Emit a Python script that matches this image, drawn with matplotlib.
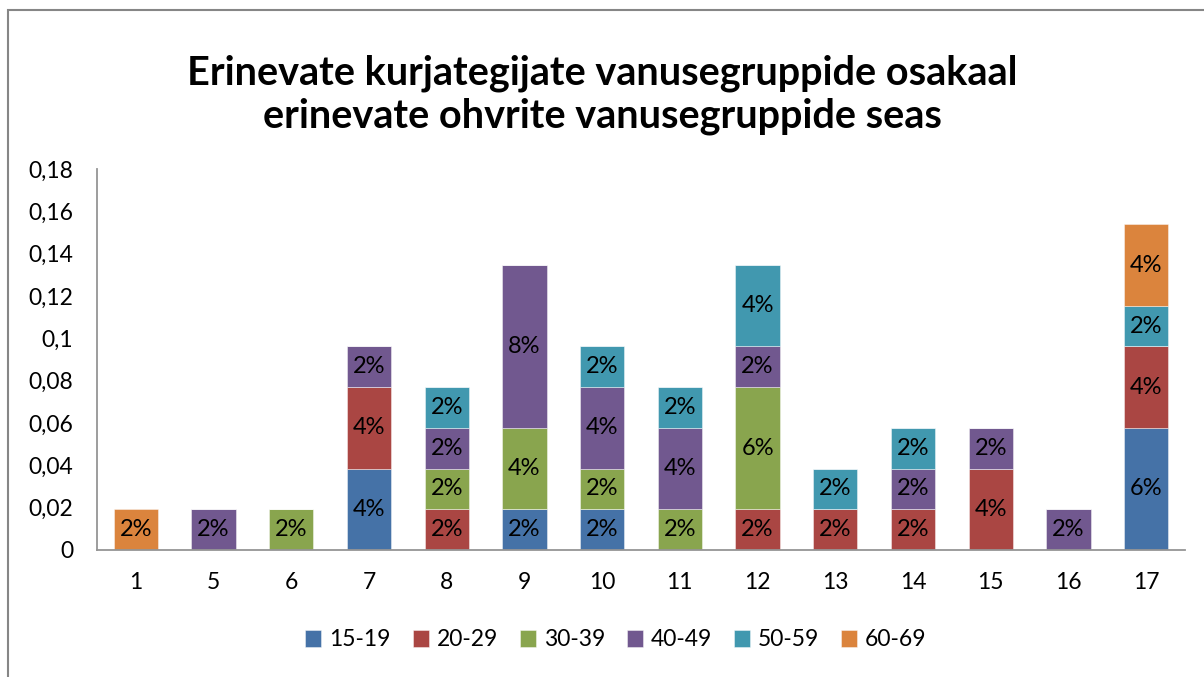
import numpy as np
import matplotlib.pyplot as plt
from matplotlib.patches import Rectangle
from matplotlib.ticker import FuncFormatter

plt.rcParams['font.family'] = ['Lato', 'DejaVu Sans']

categories = ['1', '5', '6', '7', '8', '9', '10', '11', '12', '13', '14', '15', '16', '17']
groups = ['15-19', '20-29', '30-39', '40-49', '50-59', '60-69']
total = 52.0

# counts per victim age group (out of 52 cases)
c15_19 = [0, 0, 0, 2, 0, 1, 1, 0, 0, 0, 0, 0, 0, 3]
c20_29 = [0, 0, 0, 2, 1, 0, 0, 0, 1, 1, 1, 2, 0, 2]
c30_39 = [0, 0, 1, 0, 1, 2, 1, 1, 3, 0, 0, 0, 0, 0]
c40_49 = [0, 1, 0, 1, 1, 4, 2, 2, 1, 0, 1, 1, 1, 0]
c50_59 = [0, 0, 0, 0, 1, 0, 1, 1, 2, 1, 1, 0, 0, 1]
c60_69 = [1, 0, 0, 0, 0, 0, 0, 0, 0, 0, 0, 0, 0, 2]

series = [c15_19, c20_29, c30_39, c40_49, c50_59, c60_69]
colors = ['#4572A7', '#AA4643', '#89A54E', '#71588F', '#4198AF', '#DB843D']

fig = plt.figure(figsize=(12.04, 6.77), dpi=100)
ax = fig.add_axes([97/1204, 1 - 550/677, (1185 - 97)/1204, (550 - 169)/677])

x = np.arange(len(categories))
bottom = np.zeros(len(categories))
for name, counts, col in zip(groups, series, colors):
    vals = np.array(counts) / total
    bars = ax.bar(x, vals, 0.57, bottom=bottom, color=col, label=name,
                  edgecolor=(1, 1, 1, 0.5), linewidth=0.6)
    for xi, v, b in zip(x, vals, bottom):
        if v > 0:
            ax.text(xi, b + v / 2, '{:.0%}'.format(v), ha='center', va='center',
                    fontsize=17, color='black')
    bottom += vals

ax.set_xlim(-0.5, len(categories) - 0.5)
ax.set_ylim(0, 0.18)
ax.set_yticks(np.arange(0, 0.181, 0.02))
ax.yaxis.set_major_formatter(FuncFormatter(lambda v, p: '{:g}'.format(round(v, 2)).replace('.', ',')))
ax.set_xticks(x)
ax.set_xticklabels(categories)
ax.tick_params(axis='both', length=0, labelsize=16.5)
ax.tick_params(axis='x', pad=16)
ax.tick_params(axis='y', pad=17)
for s in ['top', 'right']:
    ax.spines[s].set_visible(False)
for s in ['left', 'bottom']:
    ax.spines[s].set_color('#959595')
    ax.spines[s].set_linewidth(1.3)

fig.text(0.5, 1 - 73/677, 'Erinevate kurjategijate vanusegruppide osakaal', ha='center', va='center',
         fontsize=28.5, fontweight='bold')
fig.text(0.5, 1 - 116/677, 'erinevate ohvrite vanusegruppide seas', ha='center', va='center',
         fontsize=28.5, fontweight='bold')

fig.legend(loc='center', bbox_to_anchor=(616/1204, 1 - 640/677), ncol=6, frameon=False,
           fontsize=16.5, handlelength=0.7, handleheight=0.7, handletextpad=0.35, columnspacing=0.95)

fig.patches.append(Rectangle((8/1204, -0.1), 1.2, 1 - 10/677 + 0.1, transform=fig.transFigure,
                             fill=False, edgecolor='#868686', linewidth=1.5))

fig.savefig('out.png', dpi=100)
